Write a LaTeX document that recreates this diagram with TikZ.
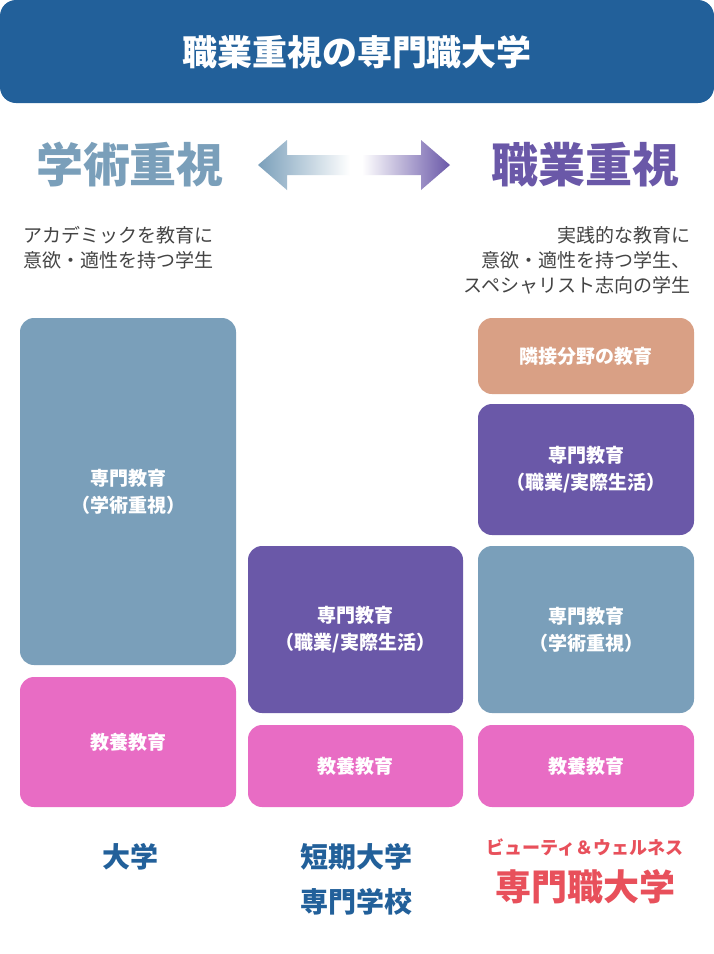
\documentclass[tikz,border=0pt]{standalone}
\usepackage{fontspec}
\setmainfont{Noto Sans CJK JP}
\definecolor{hdrblue}{HTML}{22609A}
\definecolor{acablue}{HTML}{7A9FBA}
\definecolor{jobpurple}{HTML}{6A58A8}
\definecolor{genpink}{HTML}{E86CC4}
\definecolor{nborange}{HTML}{D9A085}
\definecolor{txtgray}{HTML}{444444}
\definecolor{proRed}{HTML}{E8505B}
\tikzset{
  box/.style={rounded corners=14pt,draw=none,text=white,font=\fontsize{19}{27}\selectfont\bfseries,align=center},
  desc/.style={text=txtgray,font=\fontsize{19}{25}\selectfont},
  lab/.style={text=hdrblue,font=\fontsize{28}{34}\selectfont\bfseries}
}
\begin{document}
\begin{tikzpicture}[x=1pt,y=-1pt]
  \useasboundingbox (0,0) rectangle (714,954);
  \fill[white] (0,0) rectangle (714,954);
  % header
  \fill[hdrblue,rounded corners=16pt] (0,103) -- (0,0) -- (714,0) -- (714,103) -- cycle;
  \node[text=white,font=\fontsize{35}{40}\selectfont\bfseries] (title) at (357,52) {職業重視の専門職大学};
  % heading and arrow
  \node[text=acablue,font=\fontsize{47}{52}\selectfont\bfseries] (aca) at (130,165) {学術重視};
  \node[text=jobpurple,font=\fontsize{47}{52}\selectfont\bfseries] (job) at (585,165) {職業重視};
  \shade[left color=acablue,right color=white] (258,165) -- (287,140) -- (287,155) -- (350,155) -- (350,175) -- (287,175) -- (287,190) -- cycle;
  \shade[left color=white,right color=jobpurple] (450,165) -- (421,140) -- (421,155) -- (362,155) -- (362,175) -- (421,175) -- (421,190) -- cycle;
  % descriptions
  \node[desc,anchor=north west,align=left] (dl) at (20,223) {アカデミックを教育に\\意欲・適性を持つ学生};
  \node[desc,anchor=north east,align=right] (dr) at (694,223) {実践的な教育に\\意欲・適性を持つ学生、\\スペシャリスト志向の学生};
  % column 1
  \node[box,fill=acablue,minimum width=216pt,minimum height=347pt] (u1) at (128,491.5) {専門教育\\（学術重視）};
  \node[box,fill=genpink,minimum width=216pt,minimum height=130pt] (u2) at (128,742) {教養教育};
  % column 2
  \node[box,fill=jobpurple,minimum width=215pt,minimum height=167pt] (c1) at (355.5,629.5) {専門教育\\（職業/実際生活）};
  \node[box,fill=genpink,minimum width=215pt,minimum height=82pt] (c2) at (355.5,766) {教養教育};
  % column 3
  \node[box,fill=nborange,minimum width=216pt,minimum height=76pt] (p1) at (586,356) {隣接分野の教育};
  \node[box,fill=jobpurple,minimum width=216pt,minimum height=131pt] (p2) at (586,469.5) {専門教育\\（職業/実際生活）};
  \node[box,fill=acablue,minimum width=216pt,minimum height=167pt] (p3) at (586,629.5) {専門教育\\（学術重視）};
  \node[box,fill=genpink,minimum width=216pt,minimum height=82pt] (p4) at (586,766) {教養教育};
  % bottom labels
  \node[lab] (l1) at (130,857) {大学};
  \node[lab,align=center,font=\fontsize{28}{45}\selectfont\bfseries] (l2) at (356,879) {短期大学\\専門学校};
  \node[text=proRed,font=\fontsize{18}{22}\selectfont\bfseries] (l3a) at (585,847) {ビューティ＆ウェルネス};
  \node[text=proRed,font=\fontsize{36}{40}\selectfont\bfseries] (l3b) at (585,887) {専門職大学};
\end{tikzpicture}
\end{document}
